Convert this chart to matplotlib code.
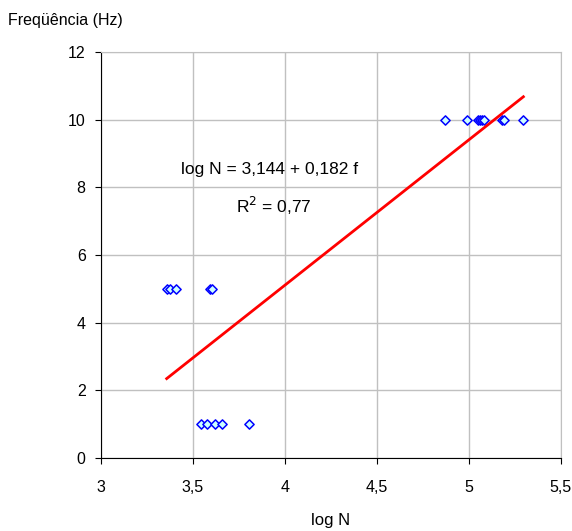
import numpy as np
import matplotlib.pyplot as plt
from matplotlib.ticker import FuncFormatter, MultipleLocator

plt.rcParams['font.family'] = ['Liberation Sans', 'DejaVu Sans']

# --- data ---
log_n_f1 = [3.546, 3.578, 3.62, 3.66, 3.805]
log_n_f5 = [3.357, 3.373, 3.41, 3.595, 3.605]
log_n_f10 = [4.869, 4.991, 5.049, 5.058, 5.07, 5.081, 5.178, 5.193, 5.296]
freq_values = [1, 5, 10]

log_n = np.array(log_n_f1 + log_n_f5 + log_n_f10)
freq = np.array([1] * len(log_n_f1) + [5] * len(log_n_f5) + [10] * len(log_n_f10))

# trend line (f against log N), drawn over the data range
slope, icpt = np.polyfit(log_n, freq, 1)
xfit = np.array([log_n.min(), log_n.max()])

fig = plt.figure(figsize=(5.72, 5.31), dpi=100)
ax = fig.add_axes([0.1766, 0.1375, 0.804, 0.7645])

ax.scatter(log_n, freq, marker='D', s=22, facecolor='#ccffff',
           edgecolor='#0000ff', linewidth=1.1, zorder=3)
ax.plot(xfit, icpt + slope * xfit, color='red', linewidth=2, zorder=4)

ax.set_xlim(3, 5.5)
ax.set_ylim(0, 12)
ax.xaxis.set_major_locator(MultipleLocator(0.5))
ax.yaxis.set_major_locator(MultipleLocator(2))
ax.xaxis.set_major_formatter(FuncFormatter(lambda v, p: f"{v:g}".replace('.', ',')))
ax.grid(True, color='#c0c0c0', linewidth=1)
ax.set_axisbelow(True)
for s in ['top', 'right']:
    ax.spines[s].set_color('#c0c0c0')
for s in ['left', 'bottom']:
    ax.spines[s].set_color('black')
ax.tick_params(direction='out', length=4, labelsize=11.5, color='black')
ax.tick_params(axis='x', pad=12)
ax.tick_params(axis='y', pad=7)

ax.text(3.915, 8.54, 'log N = 3,144 + 0,182 f', fontsize=12.5, ha='center', va='center')
ax.text(3.94, 7.45, 'R$^2$ = 0,77', fontsize=12.5, ha='center', va='center')

fig.text(0.014, 0.962, 'Freqüência (Hz)', fontsize=11.5, ha='left', va='center')
fig.text(0.578, 0.02, 'log N', fontsize=12, ha='center', va='center')

fig.savefig('out.png', dpi=100)
